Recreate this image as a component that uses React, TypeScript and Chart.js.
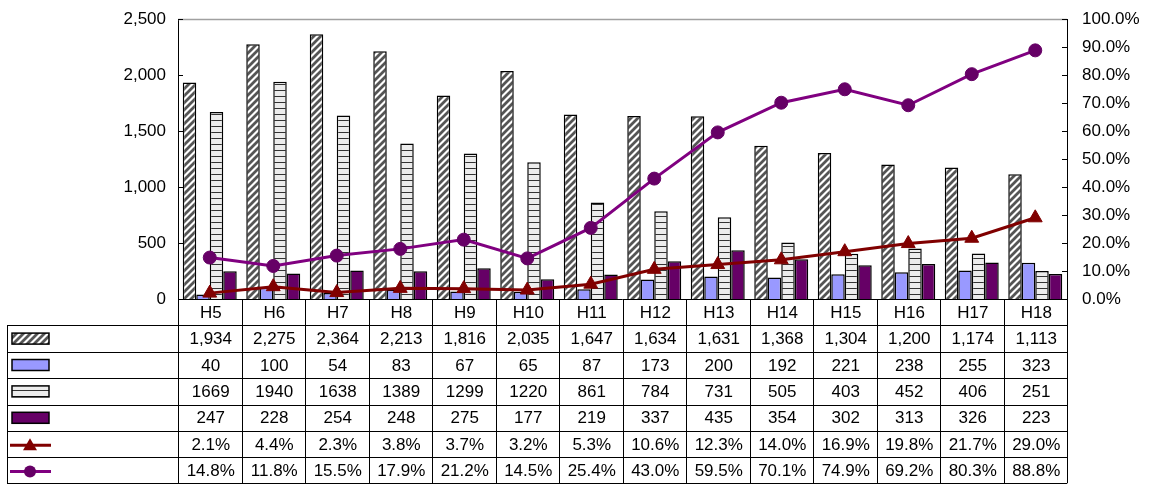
import React, { useEffect, useRef } from "react";
import { Chart, registerables } from "chart.js";

Chart.register(...registerables);

const categories = ["H5", "H6", "H7", "H8", "H9", "H10", "H11", "H12", "H13", "H14", "H15", "H16", "H17", "H18"];
const seriesDiag = [1934, 2275, 2364, 2213, 1816, 2035, 1647, 1634, 1631, 1368, 1304, 1200, 1174, 1113];
const seriesBlue = [40, 100, 54, 83, 67, 65, 87, 173, 200, 192, 221, 238, 255, 323];
const seriesStripe = [1669, 1940, 1638, 1389, 1299, 1220, 861, 784, 731, 505, 403, 452, 406, 251];
const seriesPurple = [247, 228, 254, 248, 275, 177, 219, 337, 435, 354, 302, 313, 326, 223];
const rateRed = [2.1, 4.4, 2.3, 3.8, 3.7, 3.2, 5.3, 10.6, 12.3, 14.0, 16.9, 19.8, 21.7, 29.0];
const rateCircle = [14.8, 11.8, 15.5, 17.9, 21.2, 14.5, 25.4, 43.0, 59.5, 70.1, 74.9, 69.2, 80.3, 88.8];

const leftMax = 2500;
const leftStep = 500;
const rightMax = 100;
const rightStep = 10;

const FONT = '"Liberation Sans", Arial, sans-serif';

function makeDiag(ctx: CanvasRenderingContext2D) {
  const s = 7;
  const c = document.createElement("canvas");
  c.width = s;
  c.height = s;
  const g = c.getContext("2d")!;
  g.fillStyle = "#ffffff";
  g.fillRect(0, 0, s, s);
  g.strokeStyle = "#555555";
  g.lineWidth = 2.8;
  g.beginPath();
  g.moveTo(-2, s + 2);
  g.lineTo(s + 2, -2);
  g.moveTo(-2, 2);
  g.lineTo(2, -2);
  g.moveTo(s - 2, s + 2);
  g.lineTo(s + 2, s - 2);
  g.stroke();
  return ctx.createPattern(c, "repeat")!;
}

function makeStripe(ctx: CanvasRenderingContext2D) {
  const c = document.createElement("canvas");
  c.width = 4;
  c.height = 6;
  const g = c.getContext("2d")!;
  g.fillStyle = "#ececec";
  g.fillRect(0, 0, 4, 6);
  g.fillStyle = "#333333";
  g.fillRect(0, 0, 4, 1);
  return ctx.createPattern(c, "repeat")!;
}

export default function App() {
  const ref = useRef<HTMLCanvasElement>(null);

  useEffect(() => {
    document.body.style.margin = "0";
    const canvas = ref.current!;
    const ctx = canvas.getContext("2d")!;
    const diag = makeDiag(ctx);
    const stripe = makeStripe(ctx);

    const tablePlugin = {
      id: "tablePlugin",
      afterDraw(chart: any) {
        const c = chart.ctx as CanvasRenderingContext2D;
        const area = chart.chartArea;
        const yL = chart.scales.y;
        const yR = chart.scales.y1;
        const n = categories.length;
        const colW = (area.right - area.left) / n;
        c.save();
        // top border
        c.strokeStyle = "#a0a0a0";
        c.lineWidth = 1.5;
        c.beginPath();
        c.moveTo(area.left, area.top + 0.5);
        c.lineTo(area.right, area.top + 0.5);
        c.stroke();
        // inner ticks
        c.strokeStyle = "#000";
        c.lineWidth = 1;
        c.beginPath();
        for (let v = 0; v <= leftMax; v += leftStep) {
          const y = Math.round(yL.getPixelForValue(v)) + 0.5;
          c.moveTo(area.left, y);
          c.lineTo(area.left + 5, y);
        }
        for (let v = 0; v <= rightMax; v += rightStep) {
          const y = Math.round(yR.getPixelForValue(v)) + 0.5;
          c.moveTo(area.right - 5, y);
          c.lineTo(area.right, y);
        }
        c.stroke();

        // table
        const top = area.bottom;
        const rowH = 26.4;
        const nRows = 7;
        const tableLeft = 7;
        const bottom = top + rowH * nRows - 1;
        c.beginPath();
        for (let r = 0; r <= nRows; r++) {
          const y = Math.round(Math.min(top + r * rowH, bottom)) + 0.5;
          c.moveTo(r === 0 ? area.left : tableLeft, y);
          c.lineTo(area.right, y);
        }
        for (let i = 0; i <= n; i++) {
          const x = Math.round(area.left + i * colW) + 0.5;
          c.moveTo(x, top);
          c.lineTo(x, bottom + 0.5);
        }
        c.moveTo(tableLeft + 0.5, top + rowH);
        c.lineTo(tableLeft + 0.5, bottom + 0.5);
        c.stroke();

        c.fillStyle = "#000";
        c.font = `17px ${FONT}`;
        c.textAlign = "center";
        c.textBaseline = "middle";
        const rows: string[][] = [
          categories,
          seriesDiag.map((v) => v.toLocaleString("en-US")),
          seriesBlue.map((v) => String(v)),
          seriesStripe.map((v) => String(v)),
          seriesPurple.map((v) => String(v)),
          rateRed.map((v) => v.toFixed(1) + "%"),
          rateCircle.map((v) => v.toFixed(1) + "%"),
        ];
        rows.forEach((row, r) => {
          const cy = top + r * rowH + rowH / 2 + 1;
          row.forEach((t, i) => {
            const cx = area.left + i * colW + colW / 2 + 1;
            c.fillText(t, cx, cy);
          });
        });

        // legend keys
        const kx = 12;
        const kw = 37;
        const kh = 11;
        const fills: any[] = [diag, "#9999ff", stripe, "#660066"];
        fills.forEach((f, k) => {
          const cy = top + (k + 1) * rowH + rowH / 2;
          c.fillStyle = f;
          c.fillRect(kx, cy - kh / 2, kw, kh);
          c.strokeStyle = "#000";
          c.lineWidth = 1.5;
          c.strokeRect(kx, cy - kh / 2, kw, kh);
        });
        const lineKeys = [
          { color: "#800000", fill: "#800000", shape: "tri" },
          { color: "#800080", fill: "#660066", shape: "circle" },
        ];
        lineKeys.forEach((lk, k) => {
          const cy = top + (k + 5) * rowH + rowH / 2 + 1;
          c.strokeStyle = lk.color;
          c.lineWidth = 3;
          c.beginPath();
          c.moveTo(10, cy);
          c.lineTo(51, cy);
          c.stroke();
          c.fillStyle = lk.fill;
          c.beginPath();
          if (lk.shape === "tri") {
            c.moveTo(30, cy - 7);
            c.lineTo(37, cy + 5);
            c.lineTo(23, cy + 5);
            c.closePath();
          } else {
            c.arc(30, cy, 6, 0, Math.PI * 2);
          }
          c.fill();
        });
        c.restore();
      },
    };

    const tickFont = { family: FONT, size: 17 };

    const chart = new Chart(canvas, {
      type: "bar",
      data: {
        labels: categories,
        datasets: [
          {
            type: "line",
            label: "",
            data: rateRed,
            yAxisID: "y1",
            borderColor: "#800000",
            backgroundColor: "#800000",
            borderWidth: 3,
            pointStyle: "triangle",
            pointRadius: 8,
            pointBackgroundColor: "#800000",
            pointBorderColor: "#800000",
            pointBorderWidth: 1,
            tension: 0,
            order: 0,
          } as any,
          {
            type: "line",
            label: "",
            data: rateCircle,
            yAxisID: "y1",
            borderColor: "#800080",
            backgroundColor: "#660066",
            borderWidth: 3,
            pointStyle: "circle",
            pointRadius: 6.5,
            pointBackgroundColor: "#660066",
            pointBorderColor: "#660066",
            pointBorderWidth: 1,
            tension: 0,
            order: 0,
          } as any,
          {
            label: "",
            data: seriesDiag,
            yAxisID: "y",
            backgroundColor: diag as any,
            borderColor: "#000",
            borderWidth: 1.5,
            order: 1,
          },
          {
            label: "",
            data: seriesBlue,
            yAxisID: "y",
            backgroundColor: "#9999ff",
            borderColor: "#000",
            borderWidth: 1.5,
            order: 1,
          },
          {
            label: "",
            data: seriesStripe,
            yAxisID: "y",
            backgroundColor: stripe as any,
            borderColor: "#000",
            borderWidth: 1.5,
            order: 1,
          },
          {
            label: "",
            data: seriesPurple,
            yAxisID: "y",
            backgroundColor: "#660066",
            borderColor: "#000",
            borderWidth: 1.5,
            order: 1,
          },
        ],
      },
      options: {
        responsive: false,
        animation: false,
        layout: { padding: { top: 19, bottom: 186, left: 0, right: 0 } },
        datasets: { bar: { categoryPercentage: 0.85, barPercentage: 1 } },
        plugins: { legend: { display: false }, tooltip: { enabled: false } },
        scales: {
          x: { display: false, offset: true },
          y: {
            position: "left",
            min: 0,
            max: leftMax,
            ticks: {
              stepSize: leftStep,
              padding: 12,
              color: "#000",
              font: tickFont,
              callback: (v: any) => Number(v).toLocaleString("en-US"),
            },
            grid: { display: false, drawTicks: false },
            border: { display: true, color: "#000", width: 1 },
            afterFit: (s: any) => {
              s.width = 178;
              s.paddingTop = 0;
              s.paddingBottom = 0;
            },
          },
          y1: {
            position: "right",
            min: 0,
            max: rightMax,
            ticks: {
              stepSize: rightStep,
              padding: 15,
              color: "#000",
              font: tickFont,
              callback: (v: any) => Number(v).toFixed(1) + "%",
            },
            grid: { display: false, drawTicks: false },
            border: { display: true, color: "#000", width: 1 },
            afterFit: (s: any) => {
              s.width = 84;
              s.paddingTop = 0;
              s.paddingBottom = 0;
            },
          },
        },
      },
      plugins: [tablePlugin],
    });
    return () => chart.destroy();
  }, []);

  return (
    <div style={{ width: 1151, height: 485 }}>
      <canvas ref={ref} width={1151} height={485} style={{ display: "block", width: 1151, height: 485 }} />
    </div>
  );
}
